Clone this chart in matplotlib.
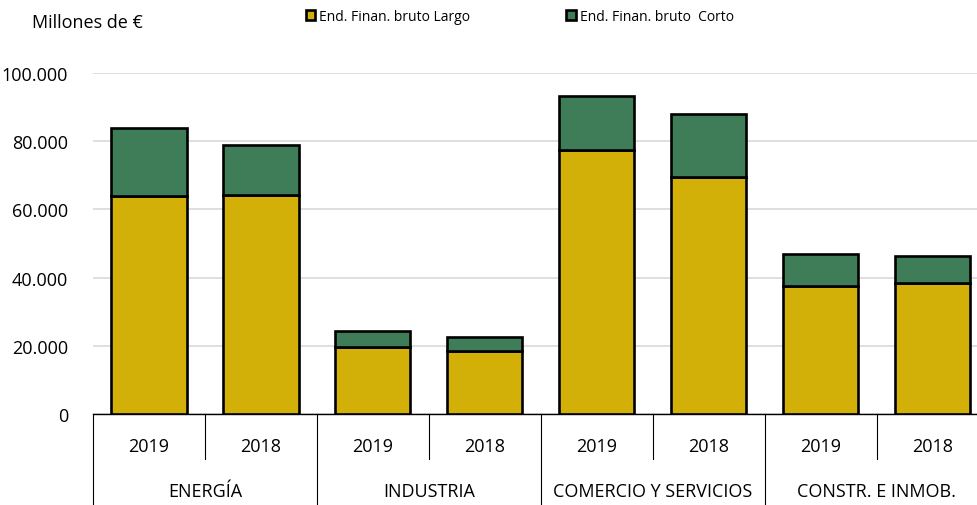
import numpy as np
import matplotlib.pyplot as plt
from matplotlib.transforms import blended_transform_factory

plt.rcParams['font.family'] = ['Open Sans', 'DejaVu Sans']

# data (millones de euros)
groups = ['ENERGÍA', 'INDUSTRIA', 'COMERCIO Y SERVICIOS', 'CONSTR. E INMOB.']
years = ['2019', '2018']
largo = [63900, 64200, 19600, 18500, 77400, 69500, 37500, 38400]
total = [83900, 78900, 24300, 22600, 93300, 88000, 46900, 46300]
corto = [t - l for t, l in zip(total, largo)]

c_largo = '#D2B008'
c_corto = '#3E7D58'

fig = plt.figure(figsize=(9.77, 5.06), dpi=100)
# axis runs a bit past the right edge of the figure, as in the original
ax = fig.add_axes([0.0952, 0.1798, 0.917, 0.674])

x = np.arange(len(largo))
b1 = ax.bar(x, largo, width=0.67, color=c_largo, edgecolor='black', linewidth=1.9,
            label='End. Finan. bruto Largo', zorder=3)
b2 = ax.bar(x, corto, width=0.67, bottom=largo, color=c_corto, edgecolor='black',
            linewidth=1.9, label='End. Finan. bruto  Corto', zorder=3)

ax.set_xlim(-0.5, len(largo) - 0.5)
ax.set_ylim(0, 100000)
yt = np.arange(0, 100001, 20000)
ax.set_yticks(yt)
ax.set_yticklabels([f'{v:,.0f}'.replace(',', '.') for v in yt], fontsize=13)
ax.tick_params(axis='y', length=0, pad=18)
ax.yaxis.grid(True, color='#d9d9d9', linewidth=1.2, zorder=0)
ax.set_axisbelow(True)
for s in ['left', 'right', 'top']:
    ax.spines[s].set_visible(False)
ax.spines['bottom'].set_linewidth(1.0)

# two-level category axis
ax.set_xticks([])
tr = blended_transform_factory(ax.transData, ax.transAxes)
for i in x:
    ax.text(i, -0.094, years[i % 2], transform=tr, ha='center', va='center', fontsize=13)
for i in range(len(largo) + 1):
    edge = i - 0.5
    y0 = -0.267 if i % 2 == 0 else -0.132
    ax.plot([edge, edge], [0, y0], transform=tr, color='black', linewidth=0.8, clip_on=False)
for g, name in enumerate(groups):
    ax.text(2 * g + 0.5, -0.226, name, transform=tr, ha='center', va='center', fontsize=13)

fig.text(0.033, 0.955, 'Millones de €', fontsize=13, ha='left', va='center')

leg = fig.legend(handles=[b1, b2], loc='center left', bbox_to_anchor=(0.300, 0.965), ncol=2,
                 frameon=False, fontsize=10, handlelength=0.7, handleheight=0.7,
                 handletextpad=0.3, columnspacing=6.9)

fig.savefig('out.png', dpi=100)
